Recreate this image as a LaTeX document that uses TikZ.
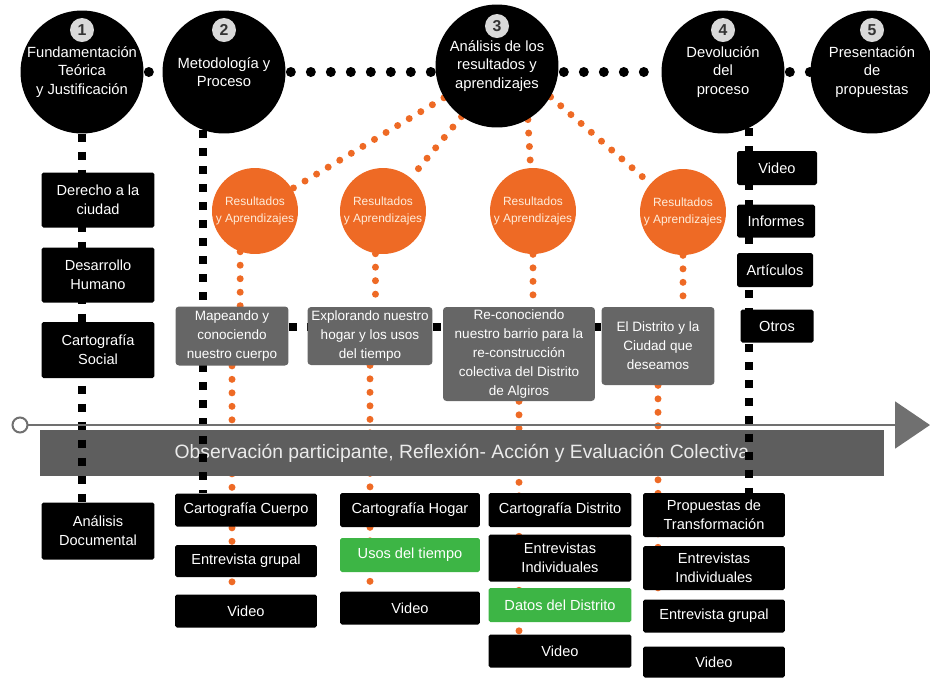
\documentclass[tikz,border=0pt]{standalone}
\usepackage{fontspec}
\setmainfont{Liberation Sans}
\usepackage{xcolor}
\usepackage{tikz}
\usetikzlibrary{positioning,arrows.meta}
\definecolor{naranja}{HTML}{EE6A25}
\definecolor{grisbox}{HTML}{666666}
\definecolor{grisbanda}{HTML}{5E5E5E}
\definecolor{grisline}{HTML}{707070}
\definecolor{verde}{HTML}{3DB545}
\pgfdeclarelayer{orange}
\pgfdeclarelayer{band}
\pgfdeclarelayer{dots}
\pgfsetlayers{orange,band,dots,main}

\begin{document}
\begin{tikzpicture}[x=0.02cm, y=-0.02cm, >=latex]
    \tikzset{
        stagecircle/.style={circle, fill=black, text=white, minimum size=2.46cm, inner sep=0pt, align=center, font=\fontsize{8.4}{10.5}\selectfont},
        numbadge/.style={circle, fill=black!15, text=black!80, minimum size=0.48cm, inner sep=0pt, font=\bfseries\fontsize{9}{9}\selectfont},
        resultcircle/.style={circle, fill=naranja, text=white!85!orange, minimum size=1.72cm, inner sep=0pt, align=center, font=\fontsize{6.8}{9.4}\selectfont},
        phasebox/.style={rectangle, rounded corners=2pt, fill=grisbox, text=white, inner sep=0pt, align=center, font=\fontsize{7.7}{10.8}\selectfont},
        toolbox/.style={rectangle, rounded corners=1pt, fill=black, text=white, inner sep=0pt, align=center, font=\fontsize{8.3}{10.8}\selectfont},
        greenbox/.style={toolbox, fill=verde},
        bannerbox/.style={rectangle, fill=grisbanda, text=white!92!black, inner sep=0pt, font=\fontsize{11}{13}\selectfont},
        blackdots/.style={line width=0.2cm, line cap=round, dash pattern=on 0pt off 0.4cm, shorten <=0.1cm},
        blacksq/.style={line width=0.16cm, dash pattern=on 0.16cm off 0.2cm},
        orangedots/.style={naranja, line width=0.14cm, line cap=round, dash pattern=on 0pt off 0.27cm},
        timeline/.style={grisline, line width=0.04cm}
    }
    \useasboundingbox (0,0) rectangle (930,677);

    \node[stagecircle] (c1) at (82,72) {Fundamentación\\Teórica\\y Justificación};
    \node[stagecircle] (c2) at (224,72) {Metodología y\\Proceso};
    \node[stagecircle] (c3) at (497,66) {Análisis de los\\resultados y\\aprendizajes};
    \node[stagecircle] (c4) at (723,72) {Devolución\\del\\proceso};
    \node[stagecircle] (c5) at (872,72) {Presentación\\de\\propuestas};
    \node[numbadge] (n1) at ([yshift=0.84cm]c1.center) {1};
    \node[numbadge] (n2) at ([yshift=0.84cm]c2.center) {2};
    \node[numbadge] (n3) at ([yshift=0.8cm]c3.center) {3};
    \node[numbadge] (n4) at ([yshift=0.84cm]c4.center) {4};
    \node[numbadge] (n5) at ([yshift=0.84cm]c5.center) {5};

    \node[resultcircle] (r1) at (255,211) {Resultados\\y Aprendizajes};
    \node[resultcircle] (r2) at (383,211) {Resultados\\y Aprendizajes};
    \node[resultcircle] (r3) at (533,211) {Resultados\\y Aprendizajes};
    \node[resultcircle] (r4) at (683,212) {Resultados\\y Aprendizajes};

    \node[phasebox, minimum width=2.26cm, minimum height=1.18cm] (p1) at (232,336) {Mapeando y\\conociendo\\nuestro cuerpo};
    \node[phasebox, minimum width=2.5cm, minimum height=1.16cm] (p2) at (370,336) {Explorando nuestro\\hogar y los usos\\del tiempo};
    \node[phasebox, minimum width=3.04cm, minimum height=1.88cm] (p3) at (519,354) {Re-conociendo\\nuestro barrio para la\\re-construcción\\colectiva del Distrito\\de Algiros};
    \node[phasebox, minimum width=2.26cm, minimum height=1.56cm] (p4) at (658,346) {El Distrito y la\\Ciudad que\\deseamos};

    \node[toolbox, minimum width=2.26cm, minimum height=1.1cm] (derecho) at (98,200) {Derecho a la\\ciudad};
    \node[toolbox, minimum width=2.26cm, minimum height=1.1cm] (desarrollo) at (98,275) {Desarrollo\\Humano};
    \node[toolbox, minimum width=2.26cm, minimum height=1.12cm] (cartografia) at (98,350) {Cartografía\\Social};
    \node[toolbox, minimum width=2.26cm, minimum height=1.14cm] (analisis) at (98,531) {Análisis\\Documental};

    \node[toolbox, minimum width=1.6cm, minimum height=0.68cm] (rvideo) at (777,168) {Video};
    \node[toolbox, minimum width=1.56cm, minimum height=0.66cm] (rinformes) at (776,221) {Informes};
    \node[toolbox, minimum width=1.52cm, minimum height=0.68cm] (rarticulos) at (775,270) {Artículos};
    \node[toolbox, minimum width=1.46cm, minimum height=0.66cm] (rotros) at (777,326) {Otros};

    \node[toolbox, minimum width=2.84cm, minimum height=0.66cm] (cuerpo) at (246,510) {Cartografía Cuerpo};
    \node[toolbox, minimum width=2.84cm, minimum height=0.64cm] (grupal1) at (246,561) {Entrevista grupal};
    \node[toolbox, minimum width=2.84cm, minimum height=0.66cm] (video1) at (246,611) {Video};

    \node[toolbox, minimum width=2.8cm, minimum height=0.68cm] (hogar) at (410,510) {Cartografía Hogar};
    \node[greenbox, minimum width=2.8cm, minimum height=0.68cm] (usos) at (410,555) {Usos del tiempo};
    \node[toolbox, minimum width=2.8cm, minimum height=0.66cm] (video2) at (410,608) {Video};

    \node[toolbox, minimum width=2.86cm, minimum height=0.68cm] (distrito) at (560,510) {Cartografía Distrito};
    \node[toolbox, minimum width=2.86cm, minimum height=0.94cm] (indiv3) at (560,558) {Entrevistas\\Individuales};
    \node[greenbox, minimum width=2.86cm, minimum height=0.68cm] (datos) at (560,605) {Datos del Distrito};
    \node[toolbox, minimum width=2.86cm, minimum height=0.66cm] (video3) at (560,651) {Video};

    \node[toolbox, minimum width=2.84cm, minimum height=0.88cm] (propuestas) at (714,515) {Propuestas de\\Transformación};
    \node[toolbox, minimum width=2.84cm, minimum height=0.88cm] (indiv4) at (714,568) {Entrevistas\\Individuales};
    \node[toolbox, minimum width=2.84cm, minimum height=0.66cm] (grupal4) at (714,616) {Entrevista grupal};
    \node[toolbox, minimum width=2.84cm, minimum height=0.62cm] (video4) at (714,662) {Video};

    \node[circle, draw=grisline, line width=0.04cm, fill=white, minimum size=0.3cm, inner sep=0pt] (inicio) at (20,425) {};
    \coordinate (fin) at (930,425);
    \draw[timeline, -{Triangle[length=0.7cm, width=0.94cm]}] (inicio) -- (fin);

    \begin{pgfonlayer}{band}
        \node[bannerbox, minimum width=16.9cm, minimum height=0.92cm] (banda) at (462,453) {Observación participante, Reflexión- Acción y Evaluación Colectiva};
    \end{pgfonlayer}

    \begin{pgfonlayer}{orange}
        \draw[orangedots] (c3) -- (r1);
        \draw[orangedots] (c3.235) -- (r2.50);
        \draw[orangedots] (c3.300) -- (r3);
        \draw[orangedots] (c3.330) -- (r4);
        \draw[orangedots] (r1.250) -- (r1.250 |- p1.north);
        \draw[orangedots] (r2.260) -- (r2.260 |- p2.north);
        \draw[orangedots] (r3.270) -- (r3.270 |- p3.north);
        \draw[orangedots] (r4.270) -- (r4.270 |- p4.north);
        \draw[orangedots] (p1) -- (p1 |- video1.north);
        \draw[orangedots] (p2) -- (p2 |- video2.north);
        \draw[orangedots] (p3) -- (p3 |- video3.north);
        \draw[orangedots] (p4) -- (p4 |- grupal4.north);
    \end{pgfonlayer}

    \begin{pgfonlayer}{dots}
        \draw[blackdots] (c1) -- (c2);
        \draw[blackdots] (c2.east) -- (c2.east -| c3.west);
        \draw[blackdots] (c4.west -| c3.east) -- (c4.west);
        \draw[blackdots] (c4) -- (c5);
        \draw[blacksq] (c1.south) -- (c1.south |- analisis.north);
        \draw[blacksq] (c2.250) -- (c2.250 |- cuerpo.north);
        \draw[blacksq] (c4.295) -- (c4.295 |- propuestas.north);
        \coordinate (enlace) at ([yshift=0.18cm]p1.east);
        \draw[blacksq] (enlace) -- (enlace -| p4.west);
    \end{pgfonlayer}
\end{tikzpicture}
\end{document}
